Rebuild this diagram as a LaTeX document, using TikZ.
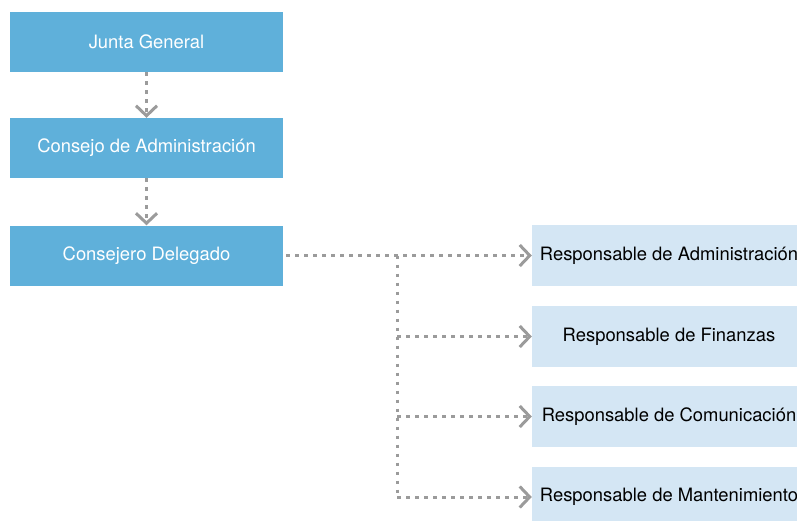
\documentclass[tikz,border=0pt]{standalone}
\usepackage{fontspec}
\setmainfont{TeX Gyre Heros}
\usepackage{xcolor}
\usepackage{tikz}
\usetikzlibrary{
	arrows.meta,
	calc,
	positioning
}
\definecolor{BoardBlue}{RGB}{95,176,218}
\definecolor{StaffBlue}{RGB}{212,230,244}
\definecolor{LinkGray}{RGB}{155,155,155}

\begin{document}
\begin{tikzpicture}[x=1pt,y=-1pt,
	font=\fontsize{18.4}{22}\selectfont,
	board/.style={fill=BoardBlue,text=white,minimum width=273pt,minimum height=60pt,inner sep=0pt},
	staff/.style={fill=StaffBlue,text=black,minimum width=274pt,minimum height=61pt,inner sep=0pt},
	link/.style={LinkGray,line width=3pt,dash pattern=on 3.5pt off 5.5pt,
		-{Straight Barb[length=10pt,width=21pt,line width=3pt]}},
	trunk/.style={LinkGray,line width=3pt,dash pattern=on 3.5pt off 5.5pt}]
		\useasboundingbox (0,0) rectangle (797,520);
		% organos de gobierno
		\node[board] (jg) at (146.5,42) {Junta General};
		\node[board] (ca) at (146.5,148) {Consejo de Administración};
		\node[board] (cd) at (146.5,255.5) {Consejero Delegado};
		% responsables
		\node[staff] (ra) at (669,255.5) {Responsable de Administración};
		\node[staff] (rf) at (669,336.5) {Responsable de Finanzas};
		\node[staff] (rc) at (669,416.5) {Responsable de Comunicación};
		\node[staff] (rm) at (669,497) {Responsable de Mantenimiento};
		% conexiones
		\draw[link] (jg.south) -- (ca.north);
		\draw[link] (ca.south) -- (cd.north);
		\coordinate (split) at ($(cd.east)+(114,0)$);
		\draw[link] ($(cd.east)+(3,0)$) -- (ra.west);
		\draw[trunk] (split) -- (split |- rm.west);
		\draw[link] (split |- rf.west) -- (rf.west);
		\draw[link] (split |- rc.west) -- (rc.west);
		\draw[link] (split |- rm.west) -- (rm.west);
	\end{tikzpicture}
\end{document}
